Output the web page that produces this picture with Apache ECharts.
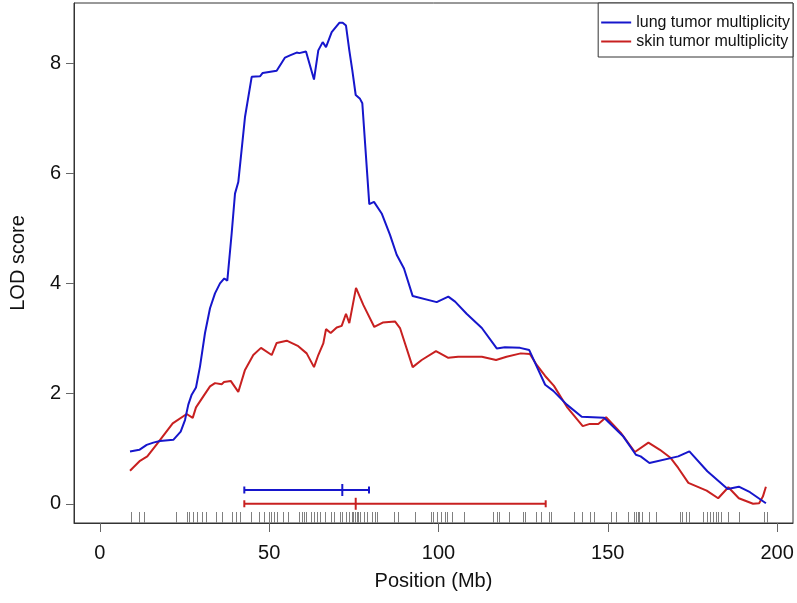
<!DOCTYPE html>
<html>
<head>
<meta charset="utf-8">
<script src="https://cdn.jsdelivr.net/npm/echarts@6/dist/echarts.min.js"></script>
<style>
html,body{margin:0;padding:0;background:#fff;}
#chart{width:797px;height:603px;}
</style>
</head>
<body>
<div id="chart"></div>
<script>
// ---- data ----
const lungPos = [8.89,11.64,13.82,15.77,17.75,21.68,23.86,25.13,26.11,27.11,28.38,29.56,31.04,32.52,33.99,35.47,36.74,37.63,38.92,39.90,40.87,42.85,44.83,47.28,48.08,52.21,54.67,56.14,58.12,58.89,60.87,63.23,64.50,65.80,66.78,68.46,70.70,71.71,72.68,73.66,74.54,75.55,76.82,77.50,79.56,80.95,83.22,85.68,87.65,89.81,92.38,99.47,102.9,104.9,108.3,112.8,117.2,119.6,124.1,126.8,131.5,133.9,137.9,142.3,148.9,154.6,158.3,159.7,162.3,170.8,174.1,179.4,185.4,188.7,192.0,196.7];
const lungLod = [0.948,0.979,1.07,1.11,1.14,1.16,1.31,1.52,1.80,1.98,2.11,2.49,3.10,3.55,3.82,4.00,4.09,4.05,4.91,5.63,5.84,7.02,7.75,7.76,7.82,7.86,8.10,8.14,8.19,8.18,8.21,7.70,8.23,8.38,8.29,8.56,8.73,8.73,8.68,8.23,7.87,7.42,7.35,7.27,5.44,5.48,5.27,4.88,4.52,4.27,3.77,3.66,3.76,3.67,3.45,3.19,2.82,2.84,2.83,2.79,2.16,2.05,1.80,1.58,1.56,1.22,0.89,0.86,0.74,0.86,0.95,0.59,0.27,0.31,0.21,0.01];
const skinPos = [8.89,11.84,14.0,16.77,21.5,25.63,27.41,28.38,30.54,32.52,33.99,35.97,36.65,38.63,40.87,42.85,45.30,47.58,50.74,52.21,55.17,58.59,61.07,63.23,64.50,65.98,66.78,68.16,69.94,71.41,72.68,73.66,75.64,77.79,81.04,83.52,87.15,88.63,92.38,95.04,99.26,102.9,105.8,112.8,117.0,120.1,124.3,127.0,129.0,131.5,134.1,137.9,142.6,144.7,147.2,149.5,153.8,158.0,162.0,165.4,168.6,170.8,173.8,179.2,182.6,185.6,188.7,192.9,194.7,195.8,196.7];
const skinLod = [0.60,0.78,0.86,1.08,1.46,1.63,1.56,1.75,1.95,2.13,2.19,2.17,2.21,2.23,2.03,2.43,2.70,2.83,2.70,2.92,2.96,2.86,2.73,2.48,2.70,2.91,3.17,3.10,3.20,3.23,3.45,3.28,3.92,3.61,3.21,3.29,3.31,3.19,2.48,2.61,2.77,2.65,2.67,2.67,2.61,2.67,2.73,2.72,2.52,2.32,2.14,1.76,1.41,1.45,1.45,1.57,1.29,0.94,1.11,0.98,0.83,0.65,0.38,0.24,0.10,0.30,0.10,0.0,0.01,0.13,0.31];
const markerPos = [9.33,11.55,13.02,22.39,25.58,26.17,27.50,28.82,30.06,31.33,34.29,36.06,39.10,40.20,41.29,44.63,47.08,48.46,49.94,50.62,51.51,52.39,54.16,55.64,58.89,59.60,60.28,60.96,62.34,63.32,64.03,65.00,66.48,68.34,69.05,70.82,71.59,72.59,73.57,74.37,74.84,75.34,75.84,76.23,76.73,78.09,78.97,80.45,81.34,81.84,86.95,88.04,93.06,97.70,98.46,99.47,100.65,102.01,102.60,103.90,107.62,116.10,117.42,117.87,120.88,125.10,125.63,128.65,130.27,132.49,133.23,140.10,142.53,144.74,145.84,150.94,152.42,156.11,157.80,158.33,158.83,159.30,160.01,162.11,164.15,171.18,171.91,173.10,174.13,178.20,179.21,180.18,181.16,181.95,182.63,183.34,185.59,188.66,196.04,196.93];
// intervals: [low, peak, high, height]
const lungInterval = [42.65, 71.59, 79.47, 0.25];
const skinInterval = [42.65, 75.55, 131.66, 0.0];
const xTicks = [0, 50, 100, 150, 200];
const yTicks = [0, 2, 4, 6, 8];
const seriesNames = ['lung tumor multiplicity', 'skin tumor multiplicity'];

// ---- config ----
const X_MIN = -7.65, X_MAX = 204.7, Y_MIN = -0.349, Y_MAX = 9.09;
const BLUE = '#1616cc', RED = '#c82020';
const FONT = "'Liberation Sans', Arial, sans-serif";

const zip = (a, b) => a.map((v, i) => [v, b[i]]);

const chart = echarts.init(document.getElementById('chart'), null, {renderer: 'canvas'});

function rugItem(params, api) {
  const p = api.coord([api.value(0), Y_MIN]);
  const x = Math.round(p[0]) + 0.5;
  return {
    type: 'line',
    shape: {x1: x, y1: p[1], x2: x, y2: p[1] - 11},
    style: {stroke: '#808080', lineWidth: 1}
  };
}
function intervalItem(color) {
  return function (params, api) {
    const y = api.value(3);
    const a = api.coord([api.value(0), y]);
    const m = api.coord([api.value(1), y]);
    const b = api.coord([api.value(2), y]);
    const st = {stroke: color, lineWidth: 2};
    return {
      type: 'group',
      children: [
        {type: 'line', shape: {x1: a[0], y1: a[1], x2: b[0], y2: b[1]}, style: st},
        {type: 'line', shape: {x1: a[0], y1: a[1] - 3.5, x2: a[0], y2: a[1] + 3.5}, style: st},
        {type: 'line', shape: {x1: b[0], y1: b[1] - 3.5, x2: b[0], y2: b[1] + 3.5}, style: st},
        {type: 'line', shape: {x1: m[0], y1: m[1] - 6, x2: m[0], y2: m[1] + 6}, style: st}
      ]
    };
  };
}

chart.setOption({
  animation: false,
  backgroundColor: '#fff',
  textStyle: {fontFamily: FONT},
  grid: {left: 74, right: 4, top: 3, bottom: 80, show: true, borderColor: '#333', borderWidth: 1, backgroundColor: 'transparent'},
  legend: {
    data: seriesNames,
    orient: 'vertical',
    right: 4, top: 3,
    icon: 'rect', itemWidth: 30, itemHeight: 2, itemGap: 0,
    padding: [10, 3, 6, 3],
    borderColor: '#333', borderWidth: 1,
    backgroundColor: '#fff',
    textStyle: {fontSize: 16, color: '#111', fontFamily: FONT, lineHeight: 19, padding: 0},
    selectedMode: false
  },
  xAxis: {
    type: 'value', min: X_MIN, max: X_MAX,
    name: 'Position (Mb)', nameLocation: 'middle', nameGap: 48,
    nameTextStyle: {fontSize: 20, color: '#111', fontFamily: FONT},
    axisLine: {show: true, onZero: false, lineStyle: {color: '#333', width: 1}},
    axisTick: {show: true, inside: false, length: 9, lineStyle: {color: '#666'}, customValues: xTicks},
    axisLabel: {fontSize: 20, color: '#111', margin: 20, customValues: xTicks, fontFamily: FONT},
    splitLine: {show: false}
  },
  yAxis: {
    type: 'value', min: Y_MIN, max: Y_MAX,
    name: 'LOD score', nameLocation: 'middle', nameGap: 46, nameRotate: 90,
    nameTextStyle: {fontSize: 20, color: '#111', fontFamily: FONT},
    axisLine: {show: true, onZero: false, lineStyle: {color: '#333', width: 1}},
    axisTick: {show: true, inside: false, length: 8, lineStyle: {color: '#666'}, customValues: yTicks},
    axisLabel: {fontSize: 20, color: '#111', margin: 13, customValues: yTicks, fontFamily: FONT},
    splitLine: {show: false}
  },
  series: [
    {
      name: seriesNames[0], type: 'line', data: zip(lungPos, lungLod),
      symbol: 'none', lineStyle: {color: BLUE, width: 2}, itemStyle: {color: BLUE}, z: 3
    },
    {
      name: seriesNames[1], type: 'line', data: zip(skinPos, skinLod),
      symbol: 'none', lineStyle: {color: RED, width: 2}, itemStyle: {color: RED}, z: 2
    },
    {
      type: 'custom', renderItem: rugItem, data: markerPos.map(v => [v, Y_MIN]),
      encode: {x: 0, y: 1}, silent: true, z: 1
    },
    {
      type: 'custom', renderItem: intervalItem(BLUE), data: [lungInterval],
      encode: {x: [0, 1, 2], y: 3}, silent: true, z: 4
    },
    {
      type: 'custom', renderItem: intervalItem(RED), data: [skinInterval],
      encode: {x: [0, 1, 2], y: 3}, silent: true, z: 4
    }
  ]
});
</script>
</body>
</html>
